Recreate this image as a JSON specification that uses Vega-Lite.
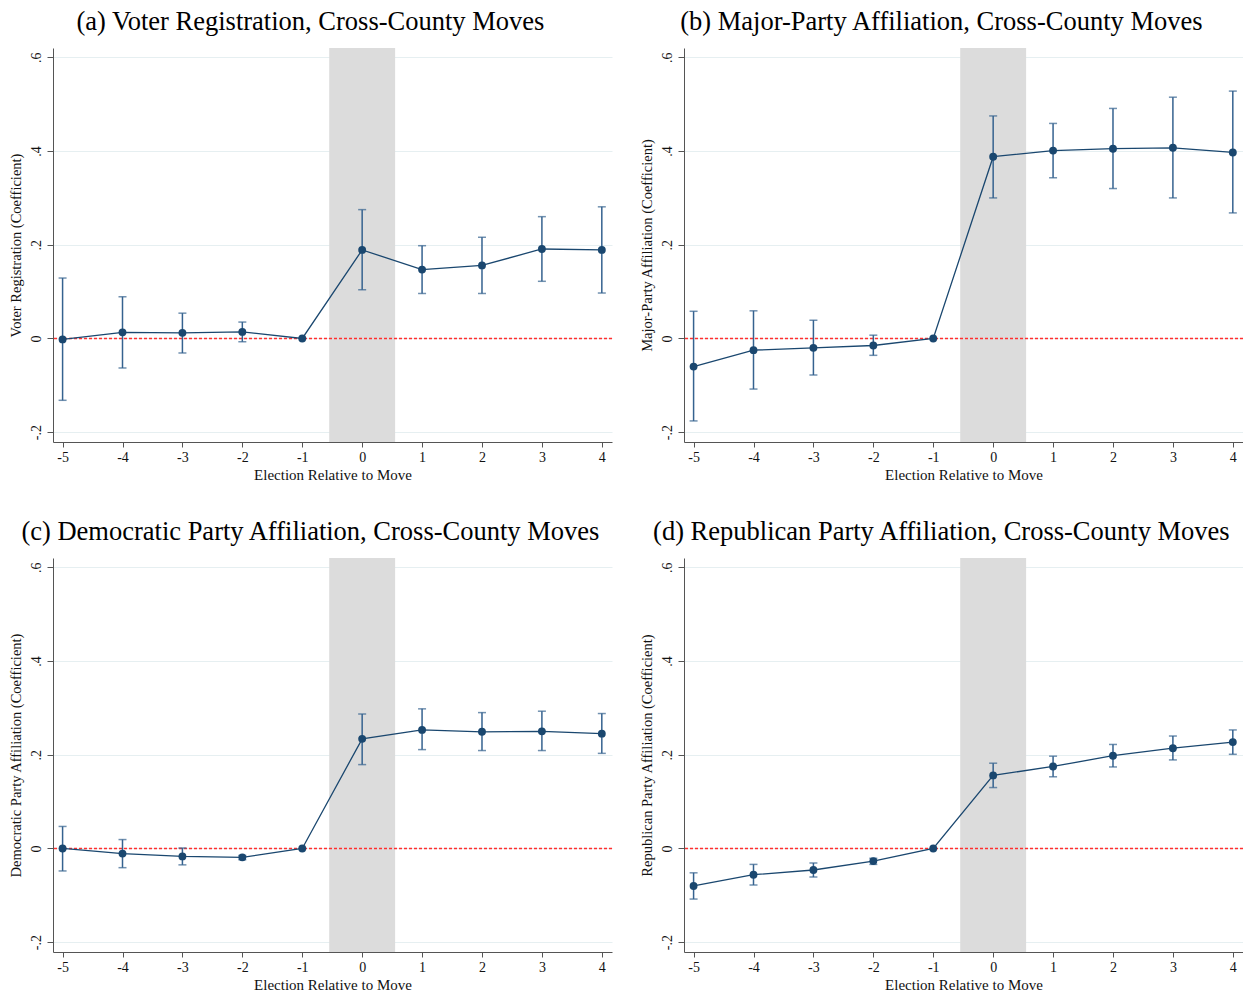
{
  "$schema": "https://vega.github.io/schema/vega-lite/v6.json",
  "padding": {"left": 8, "top": 8, "right": 0, "bottom": 0},
  "background": "white",
  "datasets": {
    "est": [
      {"panel": "a", "t": -5, "coef": -0.002, "lo": -0.132, "hi": 0.129},
      {"panel": "a", "t": -4, "coef": 0.013, "lo": -0.063, "hi": 0.089},
      {"panel": "a", "t": -3, "coef": 0.012, "lo": -0.031, "hi": 0.054},
      {"panel": "a", "t": -2, "coef": 0.014, "lo": -0.007, "hi": 0.035},
      {"panel": "a", "t": -1, "coef": 0.0},
      {"panel": "a", "t": 0, "coef": 0.189, "lo": 0.104, "hi": 0.275},
      {"panel": "a", "t": 1, "coef": 0.147, "lo": 0.096, "hi": 0.198},
      {"panel": "a", "t": 2, "coef": 0.156, "lo": 0.096, "hi": 0.216},
      {"panel": "a", "t": 3, "coef": 0.191, "lo": 0.122, "hi": 0.26},
      {"panel": "a", "t": 4, "coef": 0.189, "lo": 0.097, "hi": 0.281},
      {"panel": "b", "t": -5, "coef": -0.06, "lo": -0.176, "hi": 0.058},
      {"panel": "b", "t": -4, "coef": -0.025, "lo": -0.108, "hi": 0.059},
      {"panel": "b", "t": -3, "coef": -0.02, "lo": -0.078, "hi": 0.039},
      {"panel": "b", "t": -2, "coef": -0.015, "lo": -0.036, "hi": 0.007},
      {"panel": "b", "t": -1, "coef": 0.0},
      {"panel": "b", "t": 0, "coef": 0.388, "lo": 0.3, "hi": 0.475},
      {"panel": "b", "t": 1, "coef": 0.401, "lo": 0.343, "hi": 0.459},
      {"panel": "b", "t": 2, "coef": 0.405, "lo": 0.32, "hi": 0.491},
      {"panel": "b", "t": 3, "coef": 0.407, "lo": 0.3, "hi": 0.515},
      {"panel": "b", "t": 4, "coef": 0.397, "lo": 0.268, "hi": 0.528},
      {"panel": "c", "t": -5, "coef": 0.0, "lo": -0.048, "hi": 0.047},
      {"panel": "c", "t": -4, "coef": -0.011, "lo": -0.041, "hi": 0.019},
      {"panel": "c", "t": -3, "coef": -0.017, "lo": -0.035, "hi": 0.001},
      {"panel": "c", "t": -2, "coef": -0.019, "lo": -0.024, "hi": -0.015},
      {"panel": "c", "t": -1, "coef": 0.0},
      {"panel": "c", "t": 0, "coef": 0.234, "lo": 0.179, "hi": 0.287},
      {"panel": "c", "t": 1, "coef": 0.253, "lo": 0.211, "hi": 0.298},
      {"panel": "c", "t": 2, "coef": 0.249, "lo": 0.209, "hi": 0.29},
      {"panel": "c", "t": 3, "coef": 0.25, "lo": 0.209, "hi": 0.293},
      {"panel": "c", "t": 4, "coef": 0.245, "lo": 0.203, "hi": 0.288},
      {"panel": "d", "t": -5, "coef": -0.08, "lo": -0.108, "hi": -0.052},
      {"panel": "d", "t": -4, "coef": -0.056, "lo": -0.078, "hi": -0.034},
      {"panel": "d", "t": -3, "coef": -0.046, "lo": -0.061, "hi": -0.031},
      {"panel": "d", "t": -2, "coef": -0.027, "lo": -0.034, "hi": -0.021},
      {"panel": "d", "t": -1, "coef": 0.0},
      {"panel": "d", "t": 0, "coef": 0.156, "lo": 0.13, "hi": 0.182},
      {"panel": "d", "t": 1, "coef": 0.175, "lo": 0.153, "hi": 0.197},
      {"panel": "d", "t": 2, "coef": 0.198, "lo": 0.174, "hi": 0.222},
      {"panel": "d", "t": 3, "coef": 0.214, "lo": 0.189, "hi": 0.24},
      {"panel": "d", "t": 4, "coef": 0.227, "lo": 0.201, "hi": 0.253}
    ],
    "band": [{"lo": -0.55, "hi": 0.55}],
    "zero": [{"y": 0}]
  },
  "vconcat": [
    {
      "hconcat": [
        {
          "width": 559, "height": 394,
          "title": "(a) Voter Registration, Cross-County Moves",
          "layer": [
            {"data": {"name": "band"}, "mark": {"type": "rect", "color": "#dcdcdc"},
             "encoding": {"x": {"field": "lo", "type": "quantitative", "title": "Election Relative to Move", "scale": {"domain": [-5.16, 4.17], "nice": false, "zero": false}, "axis": {"values": [-5,-4,-3,-2,-1,0,1,2,3,4], "labelExpr": "toString(datum.value)"}}, "x2": {"field": "hi"}}},
            {"data": {"name": "zero"}, "mark": {"type": "rule", "color": "#ff3030", "strokeDash": [3, 2], "strokeWidth": 1.5},
             "encoding": {"y": {"field": "y", "type": "quantitative", "title": "Voter Registration (Coefficient)", "scale": {"domain": [-0.221, 0.62], "nice": false, "zero": false}, "axis": {"values": [-0.2, 0, 0.2, 0.4, 0.6], "labelExpr": "replace(toString(datum.value), '0.', '.')"}}}},
            {"data": {"name": "est"}, "transform": [{"filter": "datum.panel == 'a' && isValid(datum.lo)"}],
             "mark": {"type": "errorbar", "color": "#35628f", "thickness": 1.5, "ticks": {"size": 8, "thickness": 1.5}},
             "encoding": {"x": {"field": "t", "type": "quantitative", "title": "Election Relative to Move"}, "y": {"field": "lo", "type": "quantitative", "title": "Voter Registration (Coefficient)"}, "y2": {"field": "hi"}}},
            {"data": {"name": "est"}, "transform": [{"filter": "datum.panel == 'a'"}],
             "mark": {"type": "line", "color": "#1a476f", "strokeWidth": 1.3},
             "encoding": {"x": {"field": "t", "type": "quantitative", "title": "Election Relative to Move"}, "y": {"field": "coef", "type": "quantitative", "title": "Voter Registration (Coefficient)"}}},
            {"data": {"name": "est"}, "transform": [{"filter": "datum.panel == 'a'"}],
             "mark": {"type": "point", "filled": true, "opacity": 1, "color": "#1a476f", "size": 62},
             "encoding": {"x": {"field": "t", "type": "quantitative", "title": "Election Relative to Move"}, "y": {"field": "coef", "type": "quantitative", "title": "Voter Registration (Coefficient)"}}}
          ]
        },
        {
          "width": 559, "height": 394,
          "title": "(b) Major-Party Affiliation, Cross-County Moves",
          "layer": [
            {"data": {"name": "band"}, "mark": {"type": "rect", "color": "#dcdcdc"},
             "encoding": {"x": {"field": "lo", "type": "quantitative", "title": "Election Relative to Move", "scale": {"domain": [-5.16, 4.17], "nice": false, "zero": false}, "axis": {"values": [-5,-4,-3,-2,-1,0,1,2,3,4], "labelExpr": "toString(datum.value)"}}, "x2": {"field": "hi"}}},
            {"data": {"name": "zero"}, "mark": {"type": "rule", "color": "#ff3030", "strokeDash": [3, 2], "strokeWidth": 1.5},
             "encoding": {"y": {"field": "y", "type": "quantitative", "title": "Major-Party Affiliation (Coefficient)", "scale": {"domain": [-0.221, 0.62], "nice": false, "zero": false}, "axis": {"values": [-0.2, 0, 0.2, 0.4, 0.6], "labelExpr": "replace(toString(datum.value), '0.', '.')"}}}},
            {"data": {"name": "est"}, "transform": [{"filter": "datum.panel == 'b' && isValid(datum.lo)"}],
             "mark": {"type": "errorbar", "color": "#35628f", "thickness": 1.5, "ticks": {"size": 8, "thickness": 1.5}},
             "encoding": {"x": {"field": "t", "type": "quantitative", "title": "Election Relative to Move"}, "y": {"field": "lo", "type": "quantitative", "title": "Major-Party Affiliation (Coefficient)"}, "y2": {"field": "hi"}}},
            {"data": {"name": "est"}, "transform": [{"filter": "datum.panel == 'b'"}],
             "mark": {"type": "line", "color": "#1a476f", "strokeWidth": 1.3},
             "encoding": {"x": {"field": "t", "type": "quantitative", "title": "Election Relative to Move"}, "y": {"field": "coef", "type": "quantitative", "title": "Major-Party Affiliation (Coefficient)"}}},
            {"data": {"name": "est"}, "transform": [{"filter": "datum.panel == 'b'"}],
             "mark": {"type": "point", "filled": true, "opacity": 1, "color": "#1a476f", "size": 62},
             "encoding": {"x": {"field": "t", "type": "quantitative", "title": "Election Relative to Move"}, "y": {"field": "coef", "type": "quantitative", "title": "Major-Party Affiliation (Coefficient)"}}}
          ]
        }
      ],
      "spacing": 26
    },
    {
      "hconcat": [
        {
          "width": 559, "height": 394,
          "title": "(c) Democratic Party Affiliation, Cross-County Moves",
          "layer": [
            {"data": {"name": "band"}, "mark": {"type": "rect", "color": "#dcdcdc"},
             "encoding": {"x": {"field": "lo", "type": "quantitative", "title": "Election Relative to Move", "scale": {"domain": [-5.16, 4.17], "nice": false, "zero": false}, "axis": {"values": [-5,-4,-3,-2,-1,0,1,2,3,4], "labelExpr": "toString(datum.value)"}}, "x2": {"field": "hi"}}},
            {"data": {"name": "zero"}, "mark": {"type": "rule", "color": "#ff3030", "strokeDash": [3, 2], "strokeWidth": 1.5},
             "encoding": {"y": {"field": "y", "type": "quantitative", "title": "Democratic Party Affiliation (Coefficient)", "scale": {"domain": [-0.221, 0.62], "nice": false, "zero": false}, "axis": {"values": [-0.2, 0, 0.2, 0.4, 0.6], "labelExpr": "replace(toString(datum.value), '0.', '.')"}}}},
            {"data": {"name": "est"}, "transform": [{"filter": "datum.panel == 'c' && isValid(datum.lo)"}],
             "mark": {"type": "errorbar", "color": "#35628f", "thickness": 1.5, "ticks": {"size": 8, "thickness": 1.5}},
             "encoding": {"x": {"field": "t", "type": "quantitative", "title": "Election Relative to Move"}, "y": {"field": "lo", "type": "quantitative", "title": "Democratic Party Affiliation (Coefficient)"}, "y2": {"field": "hi"}}},
            {"data": {"name": "est"}, "transform": [{"filter": "datum.panel == 'c'"}],
             "mark": {"type": "line", "color": "#1a476f", "strokeWidth": 1.3},
             "encoding": {"x": {"field": "t", "type": "quantitative", "title": "Election Relative to Move"}, "y": {"field": "coef", "type": "quantitative", "title": "Democratic Party Affiliation (Coefficient)"}}},
            {"data": {"name": "est"}, "transform": [{"filter": "datum.panel == 'c'"}],
             "mark": {"type": "point", "filled": true, "opacity": 1, "color": "#1a476f", "size": 62},
             "encoding": {"x": {"field": "t", "type": "quantitative", "title": "Election Relative to Move"}, "y": {"field": "coef", "type": "quantitative", "title": "Democratic Party Affiliation (Coefficient)"}}}
          ]
        },
        {
          "width": 559, "height": 394,
          "title": "(d) Republican Party Affiliation, Cross-County Moves",
          "layer": [
            {"data": {"name": "band"}, "mark": {"type": "rect", "color": "#dcdcdc"},
             "encoding": {"x": {"field": "lo", "type": "quantitative", "title": "Election Relative to Move", "scale": {"domain": [-5.16, 4.17], "nice": false, "zero": false}, "axis": {"values": [-5,-4,-3,-2,-1,0,1,2,3,4], "labelExpr": "toString(datum.value)"}}, "x2": {"field": "hi"}}},
            {"data": {"name": "zero"}, "mark": {"type": "rule", "color": "#ff3030", "strokeDash": [3, 2], "strokeWidth": 1.5},
             "encoding": {"y": {"field": "y", "type": "quantitative", "title": "Republican Party Affiliation (Coefficient)", "scale": {"domain": [-0.221, 0.62], "nice": false, "zero": false}, "axis": {"values": [-0.2, 0, 0.2, 0.4, 0.6], "labelExpr": "replace(toString(datum.value), '0.', '.')"}}}},
            {"data": {"name": "est"}, "transform": [{"filter": "datum.panel == 'd' && isValid(datum.lo)"}],
             "mark": {"type": "errorbar", "color": "#35628f", "thickness": 1.5, "ticks": {"size": 8, "thickness": 1.5}},
             "encoding": {"x": {"field": "t", "type": "quantitative", "title": "Election Relative to Move"}, "y": {"field": "lo", "type": "quantitative", "title": "Republican Party Affiliation (Coefficient)"}, "y2": {"field": "hi"}}},
            {"data": {"name": "est"}, "transform": [{"filter": "datum.panel == 'd'"}],
             "mark": {"type": "line", "color": "#1a476f", "strokeWidth": 1.3},
             "encoding": {"x": {"field": "t", "type": "quantitative", "title": "Election Relative to Move"}, "y": {"field": "coef", "type": "quantitative", "title": "Republican Party Affiliation (Coefficient)"}}},
            {"data": {"name": "est"}, "transform": [{"filter": "datum.panel == 'd'"}],
             "mark": {"type": "point", "filled": true, "opacity": 1, "color": "#1a476f", "size": 62},
             "encoding": {"x": {"field": "t", "type": "quantitative", "title": "Election Relative to Move"}, "y": {"field": "coef", "type": "quantitative", "title": "Republican Party Affiliation (Coefficient)"}}}
          ]
        }
      ],
      "spacing": 26
    }
  ],
  "spacing": 36,
  "config": {
    "font": "Liberation Serif",
    "view": {"stroke": null},
    "title": {"font": "Liberation Serif", "fontSize": 26.5, "fontWeight": "normal", "color": "#000", "anchor": "middle", "frame": "bounds", "offset": 13},
    "axis": {"labelFont": "Liberation Serif", "titleFont": "Liberation Serif", "labelFontSize": 14, "titleFontSize": 15, "titleFontWeight": "normal", "labelColor": "#111", "titleColor": "#111", "domainColor": "#555", "tickColor": "#555", "tickSize": 5, "grid": false},
    "axisX": {"labelPadding": 3, "titlePadding": 3},
    "axisY": {"grid": true, "gridColor": "#e6eff1", "labelAngle": -90, "labelPadding": 4, "titlePadding": 6, "titleFontSize": 14.5, "tickSize": 6}
  }
}
